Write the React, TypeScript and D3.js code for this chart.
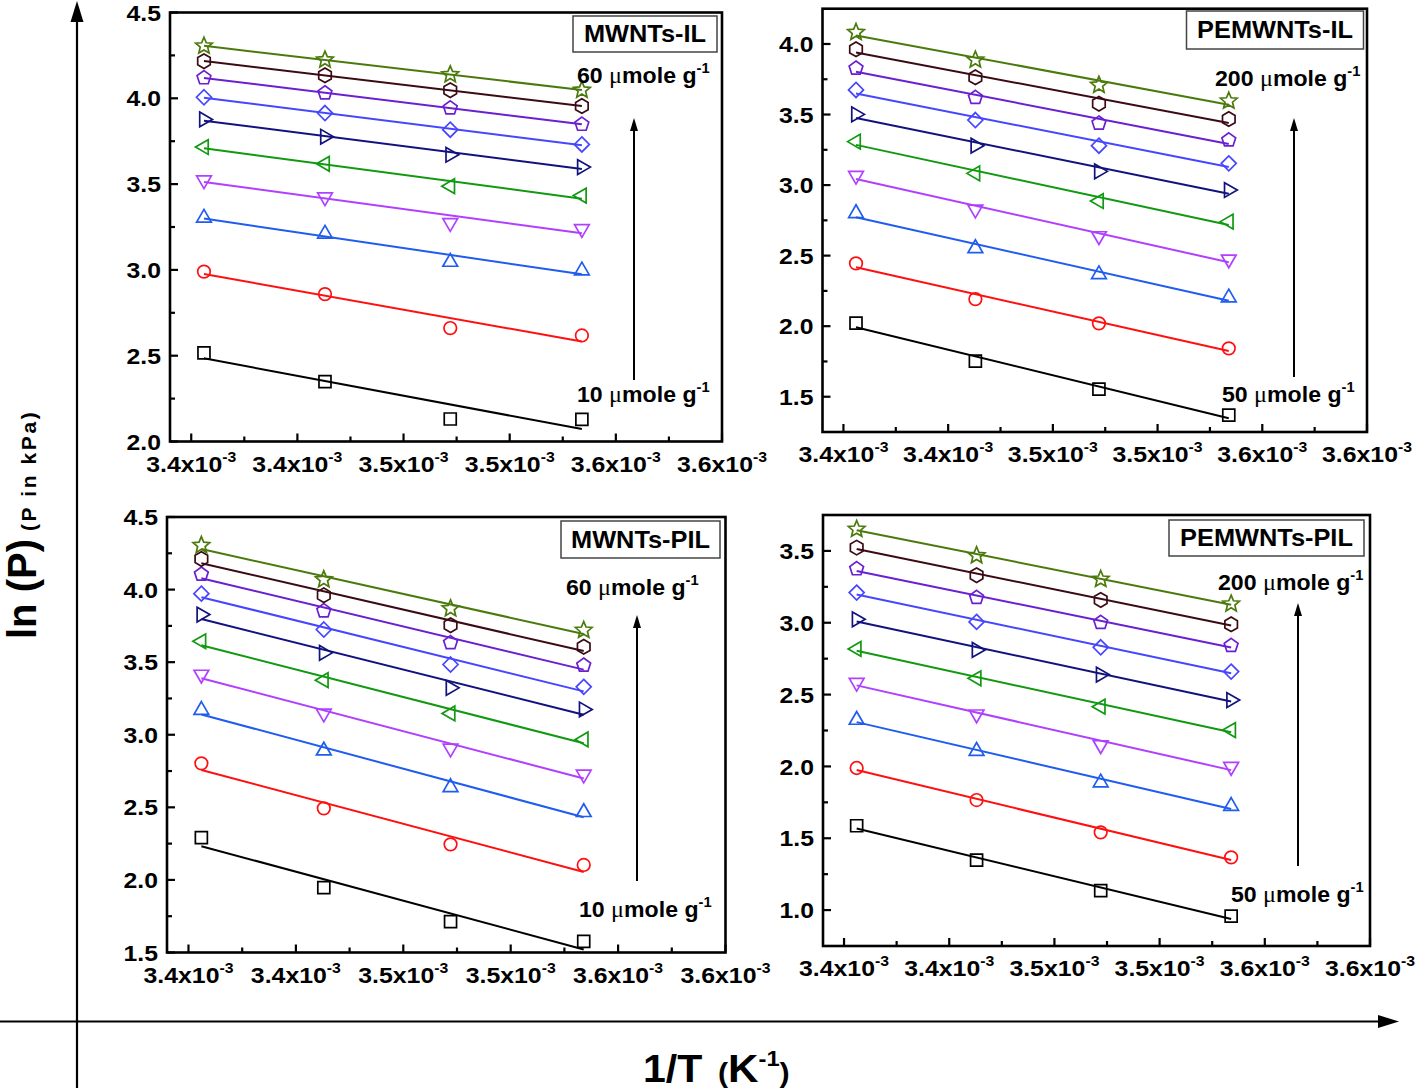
import React, { useEffect } from 'react';
import * as d3 from 'd3';

// 1/T values (x 10^-3 K^-1)
const invT = [3.406, 3.463, 3.522, 3.584];
const xTickValues = [3.4, 3.45, 3.5, 3.55, 3.6, 3.65];
const xTickLabels = ['3.4', '3.4', '3.5', '3.5', '3.6', '3.6'];
const xMinorValues = [3.425, 3.475, 3.525, 3.575, 3.625];
const xDomain = [3.39, 3.65];

const seriesColors = [
  '#000000', '#FF1010', '#1F5CEF', '#B040FF', '#119911',
  '#12127F', '#4646FF', '#6A1FD0', '#3C0A14', '#4B7A0C',
];
const seriesShapes = [
  'square', 'circle', 'triUp', 'triDown', 'triLeft',
  'triRight', 'diamond', 'pentagon', 'hexagon', 'star',
];

// ln(P) values, series from lowest loading to highest
const mwntsIL = [
  [2.517, 2.349, 2.131, 2.129],
  [2.990, 2.859, 2.661, 2.618],
  [3.303, 3.210, 3.046, 2.996],
  [3.523, 3.424, 3.274, 3.239],
  [3.716, 3.618, 3.488, 3.433],
  [3.877, 3.776, 3.671, 3.599],
  [4.006, 3.914, 3.817, 3.731],
  [4.119, 4.031, 3.943, 3.848],
  [4.216, 4.134, 4.047, 3.955],
  [4.305, 4.224, 4.138, 4.048],
];
const pemwntsIL = [
  [2.022, 1.753, 1.554, 1.370],
  [2.445, 2.192, 2.020, 1.843],
  [2.800, 2.552, 2.367, 2.202],
  [3.067, 2.828, 2.639, 2.474],
  [3.308, 3.083, 2.887, 2.741],
  [3.501, 3.279, 3.097, 2.965],
  [3.674, 3.461, 3.279, 3.154],
  [3.828, 3.620, 3.438, 3.319],
  [3.962, 3.764, 3.577, 3.468],
  [4.083, 3.887, 3.709, 3.596],
];
const mwntsPIL = [
  [2.291, 1.947, 1.713, 1.576],
  [2.803, 2.493, 2.245, 2.103],
  [3.170, 2.890, 2.638, 2.466],
  [3.415, 3.147, 2.906, 2.727],
  [3.644, 3.376, 3.147, 2.968],
  [3.828, 3.564, 3.323, 3.174],
  [3.972, 3.725, 3.484, 3.330],
  [4.106, 3.853, 3.633, 3.479],
  [4.211, 3.961, 3.755, 3.606],
  [4.305, 4.069, 3.869, 3.720],
];
const pemwntsPIL = [
  [1.587, 1.348, 1.135, 0.958],
  [1.989, 1.766, 1.541, 1.367],
  [2.323, 2.107, 1.887, 1.724],
  [2.583, 2.363, 2.149, 1.998],
  [2.818, 2.613, 2.416, 2.253],
  [3.024, 2.811, 2.639, 2.462],
  [3.210, 3.006, 2.829, 2.660],
  [3.375, 3.175, 3.001, 2.841],
  [3.523, 3.331, 3.159, 2.989],
  [3.651, 3.468, 3.303, 3.131],
];

const panelData = [mwntsIL, pemwntsIL, mwntsPIL, pemwntsPIL];
const panelTitles = ['MWNTs-IL', 'PEMWNTs-IL', 'MWNTs-PIL', 'PEMWNTs-PIL'];
const highLabels = ['60', '200', '60', '200'];
const lowLabels = ['10', '50', '10', '50'];
const yDomains = [[2.0, 4.5], [1.25, 4.25], [1.5, 4.5], [0.75, 3.75]];

const layouts = [
  { l: 170, t: 12.5, r: 722, b: 441.5, box: [573, 16, 144, 36], hi: [577, 83], ax: 634, a0: 380, a1: 118, lo: [577, 402] },
  { l: 822.5, t: 8.7, r: 1367, b: 432, box: [1186.5, 11, 177, 38], hi: [1215, 86], ax: 1294, a0: 377, a1: 118, lo: [1222, 402] },
  { l: 167, t: 517, r: 725.5, b: 952.5, box: [561, 521, 159, 37], hi: [566, 595], ax: 637, a0: 881, a1: 615, lo: [579, 917] },
  { l: 823, t: 515, r: 1370, b: 946, box: [1169, 520, 195, 36], hi: [1218, 590], ax: 1298, a0: 866, a1: 603, lo: [1231, 902] },
];

const FONT = '"Liberation Sans", Arial, Helvetica, sans-serif';
const SERIF = '"Liberation Serif", "DejaVu Serif", serif';

function polygonType(n: number, rot: number, inner?: number) {
  return {
    draw(ctx: any, size: number) {
      const r = Math.sqrt(size) / 2;
      const count = inner ? n * 2 : n;
      for (let i = 0; i < count; i++) {
        const a = rot + (i * 2 * Math.PI) / count;
        const rr = inner && i % 2 === 1 ? r * inner : r;
        const px = rr * Math.cos(a);
        const py = rr * Math.sin(a);
        if (i === 0) ctx.moveTo(px, py);
        else ctx.lineTo(px, py);
      }
      ctx.closePath();
    },
  };
}
const circleType = {
  draw(ctx: any, size: number) {
    const r = Math.sqrt(size) / 2;
    ctx.moveTo(r, 0);
    ctx.arc(0, 0, r, 0, 2 * Math.PI);
  },
};
const squareType = {
  draw(ctx: any, size: number) {
    const h = Math.sqrt(size) / 2;
    ctx.rect(-h, -h, 2 * h, 2 * h);
  },
};
const DEG = Math.PI / 180;
const shapeTypes: Record<string, { type: any; d: number }> = {
  square: { type: squareType, d: 12 },
  circle: { type: circleType, d: 12.6 },
  triUp: { type: polygonType(3, -90 * DEG), d: 17 },
  triDown: { type: polygonType(3, 90 * DEG), d: 17 },
  triLeft: { type: polygonType(3, 180 * DEG), d: 17 },
  triRight: { type: polygonType(3, 0), d: 17 },
  diamond: { type: polygonType(4, -90 * DEG), d: 15 },
  pentagon: { type: polygonType(5, -90 * DEG), d: 14.5 },
  hexagon: { type: polygonType(6, -90 * DEG), d: 14.5 },
  star: { type: polygonType(5, -90 * DEG, 0.45), d: 17.5 },
};

function fitLine(xs: number[], ys: number[]) {
  const mx = d3.mean(xs) as number;
  const my = d3.mean(ys) as number;
  const sxy = d3.sum(xs.map((v, i) => (v - mx) * (ys[i] - my)));
  const sxx = d3.sum(xs.map((v) => (v - mx) * (v - mx)));
  const slope = sxy / sxx;
  return (v: number) => my + slope * (v - mx);
}

// horizontally stretched bold text (the reference glyphs are wide)
function SText({ x, y, sx = 1.12, anchor = 'start', size = 22, dy, children }: any) {
  return (
    <g transform={`translate(${x},${y}) scale(${sx},1)`}>
      <text x={0} y={0} dy={dy} textAnchor={anchor} fontFamily={FONT} fontWeight="bold" fontSize={size} fill="#000">
        {children}
      </text>
    </g>
  );
}

function MuLabel({ x, y, num }: { x: number; y: number; num: string }) {
  return (
    <SText x={x} y={y} sx={1.05} size={22}>
      <tspan>{num} </tspan>
      <tspan fontFamily={SERIF} fontWeight="normal" fontSize={23}>μ</tspan>
      <tspan>mole g</tspan>
      <tspan dy={-10} fontSize={14}>-1</tspan>
    </SText>
  );
}

function Panel({ idx }: { idx: number }) {
  const L = layouts[idx];
  const data = panelData[idx];
  const x = d3.scaleLinear().domain(xDomain).range([L.l, L.r]);
  const y = d3.scaleLinear().domain(yDomains[idx]).range([L.b, L.t]);
  const [y0, y1] = yDomains[idx];
  const yMajor = d3.range(Math.ceil(y0 / 0.5 - 1e-9) * 0.5, y1 + 1e-9, 0.5);
  const yMinor = d3
    .range(Math.ceil(y0 / 0.25 - 1e-9) * 0.25, y1 + 1e-9, 0.25)
    .filter((v) => Math.abs(v / 0.5 - Math.round(v / 0.5)) > 1e-6)
    .filter((v) => v > y0 + 1e-6 && v < y1 - 1e-6);

  return (
    <g>
      {data.map((ys, si) => {
        const f = fitLine(invT, ys);
        const ends = [invT[0], invT[invT.length - 1]];
        const path = d3
          .line<number>()
          .x((d) => x(d))
          .y((d) => y(f(d)))(ends) as string;
        return <path key={'l' + si} d={path} stroke={seriesColors[si]} strokeWidth={2} fill="none" />;
      })}
      {data.map((ys, si) => {
        const st = shapeTypes[seriesShapes[si]];
        const sym = d3.symbol().type(st.type).size(st.d * st.d)() as string;
        return ys.map((v, pi) => (
          <path
            key={'m' + si + '-' + pi}
            d={sym}
            transform={`translate(${x(invT[pi])},${y(v)})`}
            fill="none"
            stroke={seriesColors[si]}
            strokeWidth={1.7}
          />
        ));
      })}
      <rect x={L.l} y={L.t} width={L.r - L.l} height={L.b - L.t} fill="none" stroke="#000" strokeWidth={2.6} />
      {xTickValues.map((v, i) => (
        <g key={'xt' + i}>
          <line x1={x(v)} x2={x(v)} y1={L.b} y2={L.b - 8} stroke="#000" strokeWidth={2.2} />
          <SText x={x(v)} y={L.b + 30} anchor="middle" sx={1.13} size={22}>
            <tspan>{xTickLabels[i]}x10</tspan>
            <tspan dy={-10} fontSize={14}>-3</tspan>
          </SText>
        </g>
      ))}
      {xMinorValues.map((v, i) => (
        <line key={'xm' + i} x1={x(v)} x2={x(v)} y1={L.b} y2={L.b - 5} stroke="#000" strokeWidth={2.2} />
      ))}
      {yMajor.map((v, i) => (
        <g key={'yt' + i}>
          <line x1={L.l} x2={L.l + 8} y1={y(v)} y2={y(v)} stroke="#000" strokeWidth={2.2} />
          <SText x={L.l - 9} y={y(v)} dy="0.36em" anchor="end" sx={1.1} size={22.5}>
            {d3.format('.1f')(v)}
          </SText>
        </g>
      ))}
      {yMinor.map((v, i) => (
        <line key={'ym' + i} x1={L.l} x2={L.l + 5} y1={y(v)} y2={y(v)} stroke="#000" strokeWidth={2.2} />
      ))}
      <rect x={L.box[0]} y={L.box[1]} width={L.box[2]} height={L.box[3]} fill="#fff" stroke="#444" strokeWidth={1.5} />
      <SText x={L.box[0] + L.box[2] / 2} y={L.box[1] + L.box[3] / 2} dy="0.36em" anchor="middle" sx={1.08} size={23.5}>
        {panelTitles[idx]}
      </SText>
      <MuLabel x={L.hi[0]} y={L.hi[1]} num={highLabels[idx]} />
      <MuLabel x={L.lo[0]} y={L.lo[1]} num={lowLabels[idx]} />
      <line x1={L.ax} x2={L.ax} y1={L.a0} y2={L.a1 + 10} stroke="#000" strokeWidth={2} />
      <path d={`M${L.ax},${L.a1} L${L.ax - 4},${L.a1 + 13} L${L.ax + 4},${L.a1 + 13} Z`} fill="#000" />
    </g>
  );
}

export default function App() {
  useEffect(() => {
    document.body.style.margin = '0';
    document.body.style.overflow = 'hidden';
  }, []);
  return (
    <svg
      width={1418}
      height={1091}
      viewBox="0 0 1418 1091"
      style={{ position: 'absolute', left: 0, top: 0, background: '#fff' }}
    >
      <rect x={0} y={0} width={1418} height={1091} fill="#fff" />
      <line x1={77} x2={77} y1={1088} y2={18} stroke="#000" strokeWidth={2.2} />
      <path d="M77,1 L70.5,22 L83.5,22 Z" fill="#000" />
      <line x1={0} x2={1382} y1={1021.5} y2={1021.5} stroke="#000" strokeWidth={2.2} />
      <path d="M1399,1021.5 L1378,1015 L1378,1028 Z" fill="#000" />
      {[0, 1, 2, 3].map((i) => (
        <Panel key={i} idx={i} />
      ))}
      <text transform="translate(36,639) rotate(-90)" fontFamily={FONT} fontWeight="bold" fill="#000">
        <tspan fontSize={40}>ln (P)</tspan>
        <tspan fontSize={21} dx={8} letterSpacing={2.6}>(P in kPa)</tspan>
      </text>
      <g transform="translate(643,1082) scale(1.08,1)">
        <text x={0} y={0} fontFamily={FONT} fontWeight="bold" fill="#000">
          <tspan fontSize={38}>1/T </tspan>
          <tspan fontSize={28} dx={4}>(</tspan>
          <tspan fontSize={39}>K</tspan>
          <tspan fontSize={22} dy={-16}>-1</tspan>
          <tspan fontSize={28} dy={16}>)</tspan>
        </text>
      </g>
    </svg>
  );
}
